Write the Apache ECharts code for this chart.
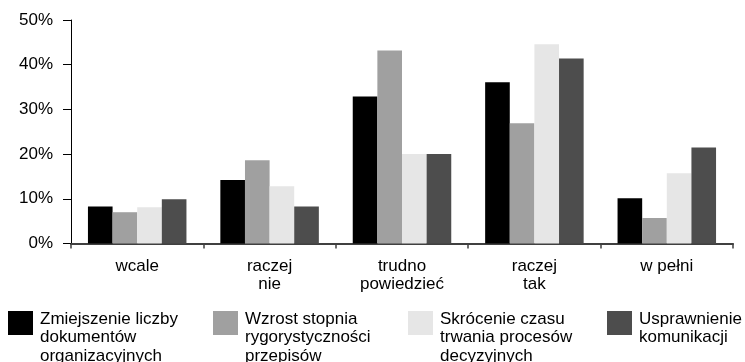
<!DOCTYPE html>
<html>
<head>
<meta charset="utf-8">
<script src="https://cdn.jsdelivr.net/npm/echarts@6/dist/echarts.min.js"></script>
<style>
  html, body { margin: 0; padding: 0; background: #ffffff; }
  #chart { width: 745px; height: 362px; }
</style>
</head>
<body>
<div id="chart"></div>
<script>
// Answer categories (x axis)
const categories = ['wcale', 'raczej\nnie', 'trudno\npowiedzieć', 'raczej\ntak', 'w pełni'];

// Series names as shown in the legend
const seriesNames = [
  'Zmiejszenie liczby\ndokumentów\norganizacyjnych',
  'Wzrost stopnia\nrygorystyczności\nprzepisów',
  'Skrócenie czasu\ntrwania procesów\ndecyzyjnych',
  'Usprawnienie\nkomunikacji'
];

// Share of answers, in percent
const documentsReduction = [8.3, 14.2, 32.9, 36.1, 10.1];
const stricterRules = [7.0, 18.6, 43.2, 26.9, 5.7];
const fasterDecisions = [8.1, 12.8, 20.0, 44.6, 15.7];
const betterCommunication = [9.9, 8.3, 20.0, 41.4, 21.5];

// Value axis ticks
const yMin = 0;
const yMax = 50;
const yStep = 10;

const seriesValues = [documentsReduction, stricterRules, fasterDecisions, betterCommunication];
const colors = ['#000000', '#a0a0a0', '#e6e6e6', '#4d4d4d'];

const FONT = '"Liberation Sans", Arial, sans-serif';
const LEGEND_LH = 18.5;
const ICON_TOP = 309;

// One legend block per series so that each sits in its own column.
// Legend text is centred on the swatch, so a spacer line on top pushes the
// first line of the name down next to the swatch.
const legendLeft = [8, 213, 408, 607];
const legends = seriesNames.map((name, i) => {
  const lines = name.split('\n');
  const n = lines.length;
  const spacer = 2 * (8 - 12 + (n - 1) * LEGEND_LH / 2);
  return {
    show: true,
    data: [name],
    left: legendLeft[i],
    top: ICON_TOP + 12 - n * LEGEND_LH / 2,
    padding: 0,
    orient: 'vertical',
    selectedMode: false,
    icon: 'rect',
    itemWidth: 25,
    itemHeight: 24,
    formatter: () => '{s| }\n' + lines.map(l => '{t|' + l + '}').join('\n'),
    textStyle: {
      fontFamily: FONT,
      fontSize: 17,
      color: '#000',
      rich: {
        s: { fontSize: 4, lineHeight: spacer },
        t: { fontFamily: FONT, fontSize: 17, lineHeight: LEGEND_LH, color: '#000', padding: [0, 0, 0, 2] }
      }
    }
  };
});

const chart = echarts.init(document.getElementById('chart'), null, { renderer: 'canvas' });

chart.setOption({
  animation: false,
  backgroundColor: '#ffffff',
  color: colors,
  grid: {
    left: 71,
    right: 12,
    top: 20,
    bottom: 118.5,
    containLabel: false
  },
  legend: legends,
  xAxis: {
    type: 'category',
    data: categories,
    axisLine: { show: true, lineStyle: { color: '#404040', width: 2 } },
    axisTick: { show: true, length: 5, lineStyle: { color: '#404040', width: 1.5 } },
    axisLabel: {
      fontFamily: FONT,
      fontSize: 17,
      lineHeight: 18,
      color: '#000',
      margin: 14,
      interval: 0
    },
    splitLine: { show: false }
  },
  yAxis: {
    type: 'value',
    min: yMin,
    max: yMax,
    interval: yStep,
    axisLine: { show: true, lineStyle: { color: '#000', width: 1 } },
    axisTick: { show: true, length: 8, lineStyle: { color: '#000', width: 1 } },
    axisLabel: {
      fontFamily: FONT,
      fontSize: 17,
      color: '#000',
      margin: 18,
      formatter: '{value}%'
    },
    splitLine: { show: false }
  },
  series: seriesNames.map((name, i) => ({
    name: name,
    type: 'bar',
    data: seriesValues[i],
    barGap: '0%',
    barCategoryGap: '25.6%',
    itemStyle: { color: colors[i] },
    emphasis: { disabled: true }
  }))
});
</script>
</body>
</html>
